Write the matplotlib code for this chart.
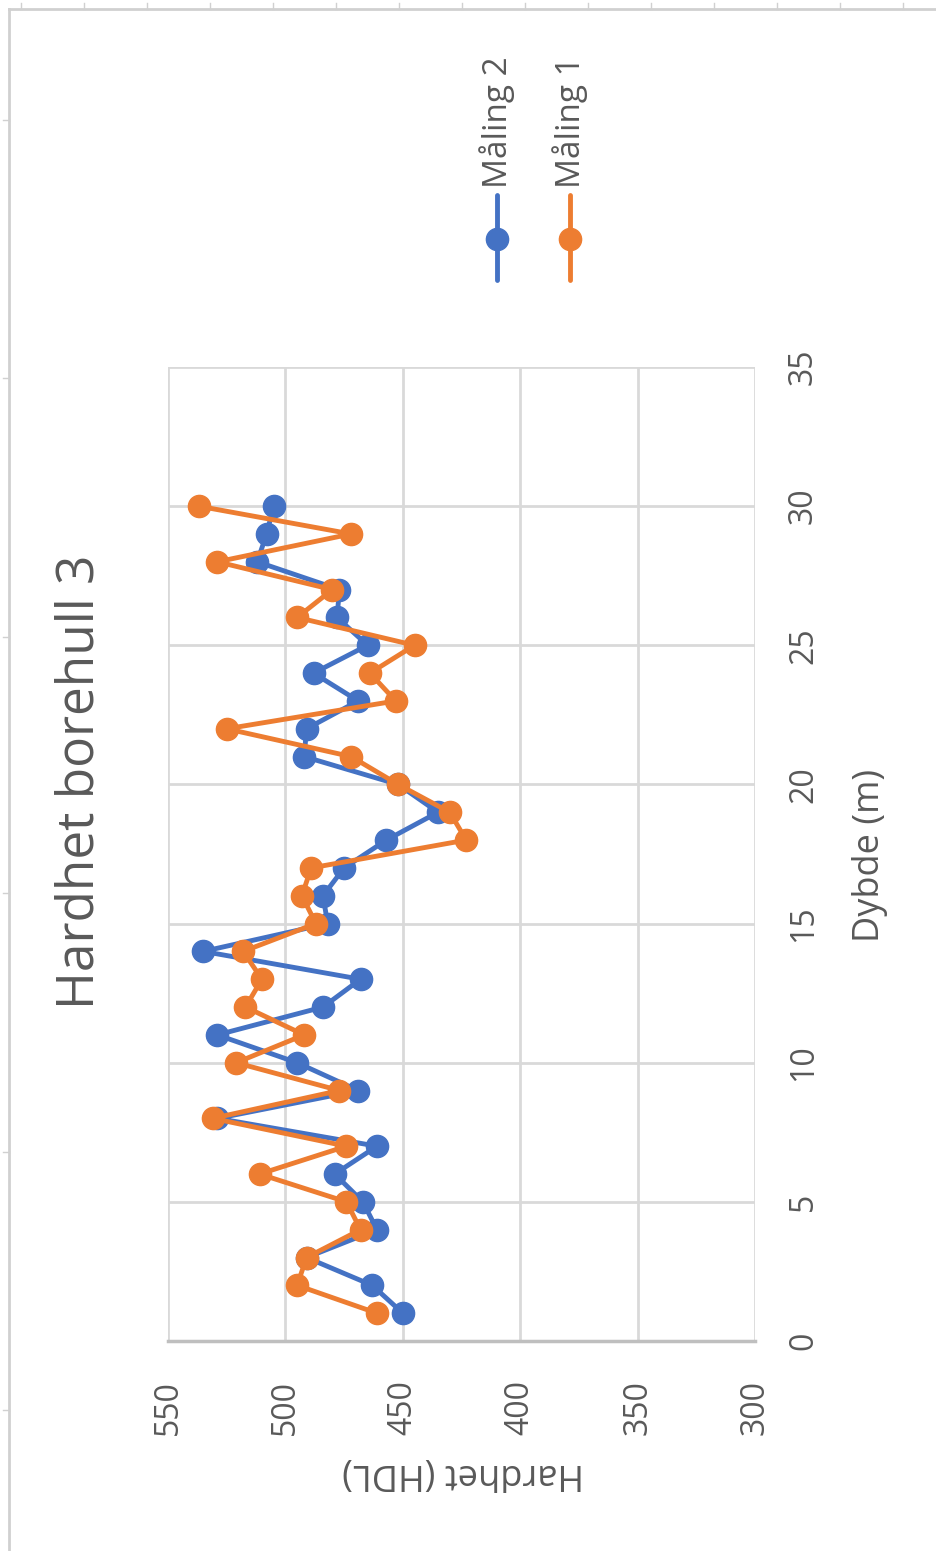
#!/usr/bin/env python3
"""Hardhet borehull 3 - rotated Excel-style line chart (two measurement series)."""

import matplotlib

matplotlib.use("Agg")
import matplotlib.pyplot as plt
from matplotlib.lines import Line2D

plt.rcParams["font.family"] = ["Open Sans", "DejaVu Sans"]

# depth (m) and hardness (HDL) per measurement
depth = list(range(1, 31))
maling_2 = [450, 463, 491, 461, 467, 479, 461, 529, 469, 495,
            529, 484, 468, 535, 482, 484, 475, 457, 435, 452,
            492, 491, 469, 488, 465, 478, 477, 512, 508, 505]
maling_1 = [461, 495, 491, 468, 474, 511, 474, 531, 477, 521,
            492, 517, 510, 518, 487, 493, 489, 423, 430, 452,
            472, 525, 453, 464, 445, 495, 480, 529, 472, 537]

hardness_ticks = [300, 350, 400, 450, 500, 550]
depth_ticks = [0, 5, 10, 15, 20, 25, 30, 35]

BLUE = "#4472C4"
ORANGE = "#ED7D31"
TXT = "#595959"
GRID = "#D9D9D9"

W, H = 936, 1551


def fx(px):
    return px / W


def fy(py):
    return 1 - py / H


def main() -> None:
    fig = plt.figure(figsize=(W / 100, H / 100), dpi=100)
    ax = fig.add_axes([fx(168), fy(1341), (755 - 168) / W, (1341 - 367) / H])

    line_kw = dict(lw=3.5, marker="o", ms=16, solid_joinstyle="round")
    ax.plot(maling_2, depth, color=BLUE, **line_kw)
    ax.plot(maling_1, depth, color=ORANGE, **line_kw)

    ax.set_xlim(550, 300)
    ax.set_ylim(0, 35)
    ax.set_xticks(hardness_ticks)
    ax.set_yticks(depth_ticks)
    ax.yaxis.tick_right()
    ax.grid(True, color=GRID, lw=2)
    ax.set_axisbelow(True)
    for side in ["top", "left", "right"]:
        ax.spines[side].set_visible(False)
    ax.spines["bottom"].set_color("#BFBFBF")
    ax.spines["bottom"].set_linewidth(2.5)

    ax.tick_params(axis="x", length=0, pad=28, labelsize=23, labelcolor=TXT, labelrotation=90)
    ax.tick_params(axis="y", length=0, pad=23, labelsize=23, labelcolor=TXT, labelrotation=90)
    for lab in ax.get_yticklabels():
        lab.set_va("center")

    # axis titles and chart title, rotated like the screenshot
    fig.text(fx(463), fy(1473), "Hardhet (HDL)", rotation=180, ha="center", va="center",
             fontsize=26, color=TXT)
    fig.text(fx(870), fy(855), "Dybde (m)", rotation=90, ha="center", va="center",
             fontsize=26, color=TXT)
    fig.text(fx(80), fy(782), "Hardhet borehull 3", rotation=90, ha="center", va="center",
             fontsize=37, color=TXT)

    # manual legend
    for x, color, name in [(497, BLUE, "Måling 2"), (570, ORANGE, "Måling 1")]:
        fig.add_artist(Line2D([fx(x), fx(x)], [fy(195), fy(280)], color=color, lw=3.5,
                              solid_capstyle="round"))
        fig.add_artist(Line2D([fx(x)], [fy(239)], color=color, marker="o", ms=16, lw=0))
        fig.text(fx(x), fy(188), name, rotation=90, ha="center", va="bottom",
                 fontsize=24, color=TXT)

    # window border with ruler ticks
    border = "#D0D0D0"
    fig.add_artist(Line2D([fx(9), fx(W)], [fy(9), fy(9)], color=border, lw=2))
    fig.add_artist(Line2D([fx(9), fx(9)], [fy(9), fy(H)], color=border, lw=2))
    for tx in range(21, W, 63):
        fig.add_artist(Line2D([fx(tx), fx(tx)], [fy(3), fy(9)], color=border, lw=1))
    for ty in [120, 378, 637, 893, 1152, 1410]:
        fig.add_artist(Line2D([fx(3), fx(9)], [fy(ty), fy(ty)], color=border, lw=1))

    fig.savefig("out.png", dpi=100)
    plt.close(fig)


if __name__ == "__main__":
    main()
